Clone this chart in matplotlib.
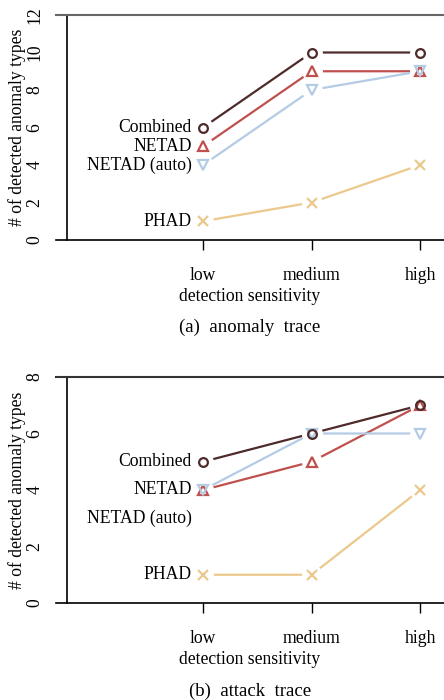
import matplotlib
matplotlib.use("Agg")
import matplotlib.pyplot as plt

plt.rcParams['font.family'] = ['Liberation Serif', 'DejaVu Serif']

levels = ["low", "medium", "high"]
series_names = ["Combined", "NETAD", "NETAD (auto)", "PHAD"]

anomaly_combined = [6, 10, 10]
anomaly_netad = [5, 9, 9]
anomaly_netad_auto = [4, 8, 9]
anomaly_phad = [1, 2, 4]

attack_combined = [5, 6, 7]
attack_netad = [4, 5, 7]
attack_netad_auto = [4, 6, 6]
attack_phad = [1, 1, 4]

anomaly_label_y = [6, 5, 4, 1]
attack_label_y = [5, 4, 3, 1]

colors = {"Combined": "#4e2a2a", "NETAD": "#c0504d",
          "NETAD (auto)": "#b4cbe6", "PHAD": "#ebc98c"}
markers = {"Combined": "o", "NETAD": "^", "NETAD (auto)": "v", "PHAD": "x"}
draw_order = ["PHAD", "NETAD", "NETAD (auto)", "Combined"]

FS = 12.7
fig = plt.figure(figsize=(4.44, 7.0), dpi=100)


def panel(rect, data, label_y, ymax, yticks, caption, top_color):
    ax = fig.add_axes(rect)
    x = list(range(len(levels)))
    for name in draw_order:
        ax.plot(x, data[name], color=colors[name], lw=1.6, zorder=2,
                solid_capstyle='butt')
    for name in draw_order:
        ax.plot(x, data[name], ls='none', marker='o', ms=15,
                mfc='white', mec='none', zorder=3)
    for name in draw_order:
        m = markers[name]
        if m == 'x':
            ax.plot(x, data[name], ls='none', marker=m, ms=7.5, mew=1.6,
                    color=colors[name], zorder=4)
        else:
            ax.plot(x, data[name], ls='none', marker=m, ms=7 if m != 'o' else 6.3,
                    mew=1.6, mfc='none', mec=colors[name], zorder=4)
    for name, yy in zip(series_names, label_y):
        ax.text(-0.105, yy, name, ha='right', va='center', fontsize=FS, zorder=5)

    x0 = -1.253
    ax.set_xlim(-1.355, 2.22)
    ax.set_ylim(0, ymax)
    ax.spines['right'].set_visible(False)
    ax.spines['left'].set_position(('data', x0))
    ax.spines['top'].set_color(top_color)
    ax.spines['top'].set_linewidth(1.5)
    ax.spines['bottom'].set_linewidth(1.2)
    ax.spines['left'].set_linewidth(1.2)
    ax.set_xticks(x)
    ax.set_xticklabels(levels, fontsize=FS)
    ax.tick_params(axis='x', direction='out', length=7.5, width=1.0, pad=12)
    ax.set_yticks(yticks)
    ax.set_yticklabels([str(t) for t in yticks], fontsize=FS, rotation=90,
                       va='center')
    ax.tick_params(axis='y', length=0, pad=17)
    ax.set_xlabel("detection sensitivity", fontsize=FS, labelpad=3)
    ax.set_ylabel("# of detected anomaly types", fontsize=FS, labelpad=0.5)
    ax.text(0.5, -0.39, caption, transform=ax.transAxes, ha='center',
            va='center', fontsize=FS + 0.8)
    return ax


data_a = {"Combined": anomaly_combined, "NETAD": anomaly_netad,
          "NETAD (auto)": anomaly_netad_auto, "PHAD": anomaly_phad}
data_b = {"Combined": attack_combined, "NETAD": attack_netad,
          "NETAD (auto)": attack_netad_auto, "PHAD": attack_phad}

panel([56 / 444, 1 - 240 / 700, 1 - 56 / 444, 225 / 700], data_a,
      anomaly_label_y, 12, [0, 2, 4, 6, 8, 10, 12], "(a)  anomaly  trace",
      '#666666')
panel([56 / 444, 1 - 603 / 700, 1 - 56 / 444, 226 / 700], data_b,
      attack_label_y, 8, [0, 2, 4, 6, 8], "(b)  attack  trace", '#333333')

fig.savefig("out.png", dpi=100)
